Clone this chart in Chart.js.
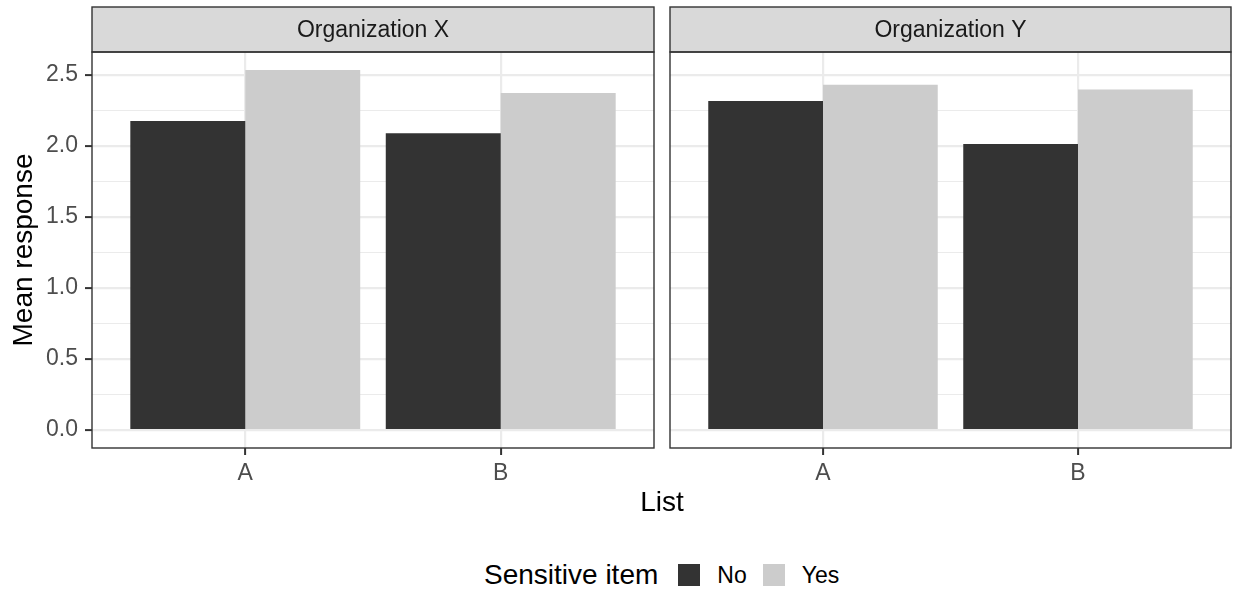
<!DOCTYPE html>
<html>
<head>
<meta charset="utf-8">
<script src="https://cdn.jsdelivr.net/npm/chart.js@4/dist/chart.umd.min.js"></script>
<style>
  body { margin: 0; background: #fff; font-family: "Liberation Sans", Arial, sans-serif; }
  #wrap { position: relative; width: 1235px; height: 591px; overflow: hidden; background: #fff; }
  canvas { position: absolute; top: 0; }
  #chartX { left: 0; }
  #chartY { left: 664px; }
  #xtitle { position: absolute; top: 488px; left: 562px; width: 200px; text-align: center;
    font-size: 28px; line-height: 28px; color: #000; }
  #legend { position: absolute; top: 561px; left: 484px; display: flex; align-items: center; color: #000; }
  #legend .ttl { font-size: 28px; line-height: 28px; margin-right: 20px; }
  #legend .key { width: 22px; height: 22px; margin-right: 17px; }
  #legend .lab { font-size: 23px; line-height: 28px; margin-right: 16px; }
</style>
</head>
<body>
<div id="wrap">
  <canvas id="chartX" width="660" height="500"></canvas>
  <canvas id="chartY" width="572" height="500"></canvas>
  <div id="xtitle">List</div>
  <div id="legend"></div>
</div>
<script>
// data
const lists = ["A", "B"];
const organizations = ["Organization X", "Organization Y"];
const sensitiveLevels = ["No", "Yes"];
const orgXNo = [2.175, 2.088];
const orgXYes = [2.533, 2.372];
const orgYNo = [2.315, 2.012];
const orgYYes = [2.430, 2.395];
const yTickValues = [0, 0.5, 1, 1.5, 2, 2.5];
const yTickLabels = ["0.0", "0.5", "1.0", "1.5", "2.0", "2.5"];

const fillColors = { No: "#333333", Yes: "#CCCCCC" };
const gridColor = "#EBEBEB";
const tickFont = { family: "Liberation Sans", size: 23 };

// ggplot style expansion: 5% on continuous, 0.6 on discrete
const allVals = [...orgXNo, ...orgXYes, ...orgYNo, ...orgYYes];
const yTop = Math.max(...allVals);
const yMin = -yTop * 0.05;
const yMax = yTop * 1.05;

// major + minor gridline positions
const yGrid = [];
yTickValues.forEach((v, i) => {
	yGrid.push({ value: v, minor: false, label: yTickLabels[i] });
	if (i < yTickValues.length - 1) {
		yGrid.push({ value: (v + yTickValues[i + 1]) / 2, minor: true, label: "" });
	}
});

const panelFrame = {
	id: "panelFrame",
	afterDraw(chart, args, opts) {
		const { ctx, chartArea: a } = chart;
		ctx.save();
		// strip
		ctx.fillStyle = "#D9D9D9";
		ctx.fillRect(a.left, 7, a.right - a.left, a.top - 7);
		ctx.strokeStyle = "#333333";
		ctx.lineWidth = 1.4;
		ctx.strokeRect(a.left, 7, a.right - a.left, a.top - 7);
		ctx.fillStyle = "#1A1A1A";
		ctx.font = "23px 'Liberation Sans'";
		ctx.textAlign = "center";
		ctx.textBaseline = "middle";
		ctx.fillText(opts.label, (a.left + a.right) / 2, (7 + a.top) / 2 + 1);
		// panel border
		ctx.strokeRect(a.left, a.top, a.right - a.left, a.bottom - a.top);
		ctx.restore();
	},
};

function makePanel(id, label, noVals, yesVals, showY) {
	const ctx = document.getElementById(id).getContext("2d");
	const series = { No: noVals, Yes: yesVals };
	return new Chart(ctx, {
		type: "bar",
		data: {
			datasets: sensitiveLevels.map((s) => ({
				label: s,
				data: lists.map((l, i) => ({ x: i + 1, y: series[s][i] })),
				backgroundColor: fillColors[s],
				borderWidth: 0,
				categoryPercentage: 0.9,
				barPercentage: 1,
			})),
		},
		options: {
			responsive: false,
			animation: false,
			devicePixelRatio: 1,
			layout: {
				padding: { top: 52, left: 0, right: showY ? 6 : 5, bottom: 0 },
			},
			plugins: {
				legend: { display: false },
				tooltip: { enabled: false },
				panelFrame: { label: label },
			},
			scales: {
				x: {
					type: "linear",
					bounds: "data",
					min: 0.4,
					max: lists.length + 0.6,
					offset: false,
					afterBuildTicks: (scale) => {
						scale.ticks = lists.map((l, i) => ({ value: i + 1 }));
					},
					afterFit: (scale) => {
						scale.height = 52;
					},
					ticks: {
						callback: (v) => lists[v - 1],
						font: tickFont,
						color: "#4D4D4D",
						padding: 5,
						autoSkip: false,
						maxRotation: 0,
					},
					grid: {
						color: gridColor,
						lineWidth: 2.2,
						tickColor: "#333333",
						tickLength: 7,
						tickWidth: 2,
						offset: false,
					},
					border: { display: false },
				},
				y: {
					type: "linear",
					bounds: "data",
					min: yMin,
					max: yMax,
					afterBuildTicks: (scale) => {
						scale.ticks = yGrid.map((t) => ({ value: t.value, minor: t.minor }));
					},
					afterFit: (scale) => {
						scale.width = showY ? 92 : 6;
					},
					ticks: {
						display: showY,
						callback: (v, i) => yGrid[i].label,
						font: tickFont,
						color: "#4D4D4D",
						padding: 7,
						autoSkip: false,
					},
					grid: {
						color: gridColor,
						lineWidth: (c) => (c.tick && c.tick.minor ? 1.1 : 2.2),
						drawTicks: showY,
						tickColor: (c) => (c.tick && c.tick.minor ? "rgba(0,0,0,0)" : "#333333"),
						tickLength: 7,
						tickWidth: 2,
					},
					border: { display: false },
					title: {
						display: showY,
						text: "Mean response",
						color: "#000000",
						font: { family: "Liberation Sans", size: 28 },
						padding: { top: 7, bottom: 0 },
					},
				},
			},
		},
		plugins: [panelFrame],
	});
}

makePanel("chartX", organizations[0], orgXNo, orgXYes, true);
makePanel("chartY", organizations[1], orgYNo, orgYYes, false);

// legend
const legend = document.getElementById("legend");
const ttl = document.createElement("span");
ttl.className = "ttl";
ttl.textContent = "Sensitive item";
legend.appendChild(ttl);
sensitiveLevels.forEach((s) => {
	const key = document.createElement("span");
	key.className = "key";
	key.style.background = fillColors[s];
	legend.appendChild(key);
	const lab = document.createElement("span");
	lab.className = "lab";
	lab.textContent = s;
	legend.appendChild(lab);
});
</script>
</body>
</html>
